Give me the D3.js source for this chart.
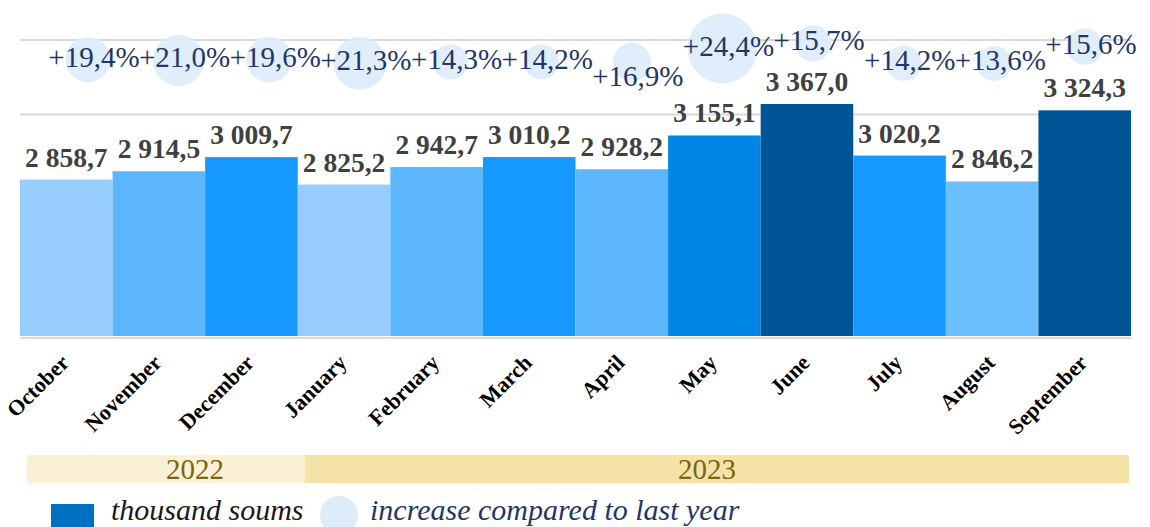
<!DOCTYPE html>
<html>
<head>
<meta charset="utf-8">
<script src="https://cdn.jsdelivr.net/npm/d3@7"></script>
<style>
  body { margin: 0; background: #fff; }
  svg text { font-family: "Liberation Serif", "Times New Roman", Times, "DejaVu Serif", serif; }
</style>
</head>
<body>
<div id="chart"></div>
<script>
// data
var months = ["October", "November", "December", "January", "February", "March",
              "April", "May", "June", "July", "August", "September"];
var incomes = [2858.7, 2914.5, 3009.7, 2825.2, 2942.7, 3010.2, 2928.2, 3155.1, 3367.0, 3020.2, 2846.2, 3324.3];
var growth = [19.4, 21.0, 19.6, 21.3, 14.3, 14.2, 16.9, 24.4, 15.7, 14.2, 13.6, 15.6];
// level of the bubble series (same axis as the bars)
var bubbleLevel = [3665, 3660, 3665, 3640, 3650, 3650, 3650, 3740, 3775, 3640, 3640, 3752];
var gridTicks = [3300, 3800];
var years = [{label: "2022", from: 0, to: 3}, {label: "2023", from: 3, to: 12}];
var legendBars = "thousand soums";
var legendBubbles = "increase compared to last year";

// styles
var barColors = ["#97CDFE", "#5CB6FE", "#1599FE", "#97CDFE", "#5CB6FE", "#1599FE",
                 "#5CB6FE", "#0086E6", "#005596", "#1599FE", "#6CC0FF", "#005596"];
var yearColors = ["#FAF0D3", "#F4E2A6"];
var serif = "'Liberation Serif', 'Times New Roman', Times, 'DejaVu Serif', serif";

var W = 1150, H = 527;
var left = 20, right = 1131, top = 40, bottom = 337;

var svg = d3.select("#chart").append("svg")
    .attr("width", W)
    .attr("height", H);

svg.append("rect").attr("width", W).attr("height", H).attr("fill", "#fff");

var x = d3.scaleBand()
    .domain(months)
    .range([left, right])
    .padding(0);

var y = d3.scaleLinear()
    .domain([1800, 3800])
    .range([bottom, 39.6]);

// bubbles sit on their own x axis
var xb = d3.scalePoint()
    .domain(months)
    .range([left + 68, right - 46]);

var gMin = d3.min(growth), gMax = d3.max(growth);
var rScale = d3.scaleLinear()
    .domain([0, (gMax - gMin) * (gMax - gMin)])
    .range([17.5, 35]);
var radius = function(g) { return rScale((g - gMin) * (g - gMin)); };

// gridlines
svg.append("g")
    .attr("transform", "translate(" + left + ",0)")
    .call(d3.axisLeft(y).tickValues(gridTicks).tickSize(-(right - left)).tickFormat(""))
    .call(function(g) {
      g.select(".domain").remove();
      g.selectAll("line").attr("stroke", "#D9D9D9").attr("stroke-width", 2);
    });

// bars
svg.selectAll(".bar")
    .data(incomes)
  .enter().append("rect")
    .attr("class", "bar")
    .attr("x", function(d, i) { return x(months[i]); })
    .attr("width", x.bandwidth())
    .attr("y", function(d) { return y(d); })
    .attr("height", function(d) { return y(1800) - y(d) - 1; })
    .attr("fill", function(d, i) { return barColors[i]; });

// x axis
svg.append("g")
    .attr("transform", "translate(0," + (bottom + 0.5) + ")")
    .call(d3.axisBottom(x).tickSize(0).tickFormat(""))
    .call(function(g) {
      g.select(".domain").attr("stroke", "#D9D9D9").attr("stroke-width", 2);
    });

svg.selectAll(".month")
    .data(months)
  .enter().append("text")
    .attr("class", "month")
    .attr("transform", function(d) {
      return "translate(" + (x(d) + x.bandwidth() / 2 + 4) + "," + (bottom + 27) + ") rotate(-45)";
    })
    .attr("text-anchor", "end")
    .attr("font-family", serif)
    .attr("font-size", 22)
    .attr("font-weight", "bold")
    .attr("fill", "#000")
    .text(function(d) { return d; });

// value labels
svg.selectAll(".val")
    .data(incomes)
  .enter().append("text")
    .attr("class", "val")
    .attr("x", function(d, i) { return x(months[i]) + x.bandwidth() / 2; })
    .attr("y", function(d) { return y(d) - 13; })
    .attr("text-anchor", "middle")
    .attr("font-family", serif)
    .attr("font-size", 27.5)
    .attr("font-weight", "bold")
    .attr("fill", "#404040")
    .text(function(d) { return d3.format(",.1f")(d).replace(/,/g, " ").replace(".", ","); });

// bubbles
svg.selectAll(".bubble")
    .data(growth)
  .enter().append("circle")
    .attr("class", "bubble")
    .attr("cx", function(d, i) { return xb(months[i]); })
    .attr("cy", function(d, i) { return y(bubbleLevel[i]); })
    .attr("r", function(d) { return radius(d); })
    .attr("fill", "#DDEBFB")
    .attr("fill-opacity", 0.9);

svg.selectAll(".pct")
    .data(growth)
  .enter().append("text")
    .attr("class", "pct")
    .attr("x", function(d, i) { return xb(months[i]) + 6; })
    .attr("y", function(d, i) {
      var cy = y(bubbleLevel[i]);
      return months[i] === "April" ? cy + 24 : cy + 7;
    })
    .attr("text-anchor", "middle")
    .attr("font-family", serif)
    .attr("font-size", 29)
    .attr("fill", "#1F3768")
    .text(function(d) { return "+" + d.toFixed(1).replace(".", ",") + "%"; });

// year bands
var bandY = 455, bandH = 28;
var yearX = function(i) { return i < months.length ? x(months[i]) + 7 : right - 2; };
var yearG = svg.selectAll(".year")
    .data(years)
  .enter().append("g")
    .attr("class", "year");
yearG.append("rect")
    .attr("x", function(d) { return yearX(d.from); })
    .attr("y", bandY)
    .attr("width", function(d) { return yearX(d.to) - yearX(d.from); })
    .attr("height", bandH)
    .attr("fill", function(d, i) { return yearColors[i]; });
yearG.append("text")
    .attr("x", function(d, i) { return (yearX(d.from) + yearX(d.to)) / 2 + (i === 0 ? 29 : -10); })
    .attr("y", bandY + 24)
    .attr("text-anchor", "middle")
    .attr("font-family", serif)
    .attr("font-size", 29)
    .attr("fill", "#7F6415")
    .text(function(d) { return d.label; });

// legend
var leg = svg.append("g");
leg.append("rect")
    .attr("x", 51).attr("y", 504)
    .attr("width", 43).attr("height", 30)
    .attr("fill", "#0070C0");
leg.append("text")
    .attr("x", 111).attr("y", 520)
    .attr("font-family", serif)
    .attr("font-size", 30)
    .attr("font-style", "italic")
    .attr("fill", "#1a1a1a")
    .text(legendBars);
leg.append("circle")
    .attr("cx", 339).attr("cy", 515).attr("r", 19)
    .attr("fill", "#DDEBFB");
leg.append("text")
    .attr("x", 370).attr("y", 520)
    .attr("font-family", serif)
    .attr("font-size", 30)
    .attr("font-style", "italic")
    .attr("fill", "#1F3768")
    .text(legendBubbles);
</script>
</body>
</html>
